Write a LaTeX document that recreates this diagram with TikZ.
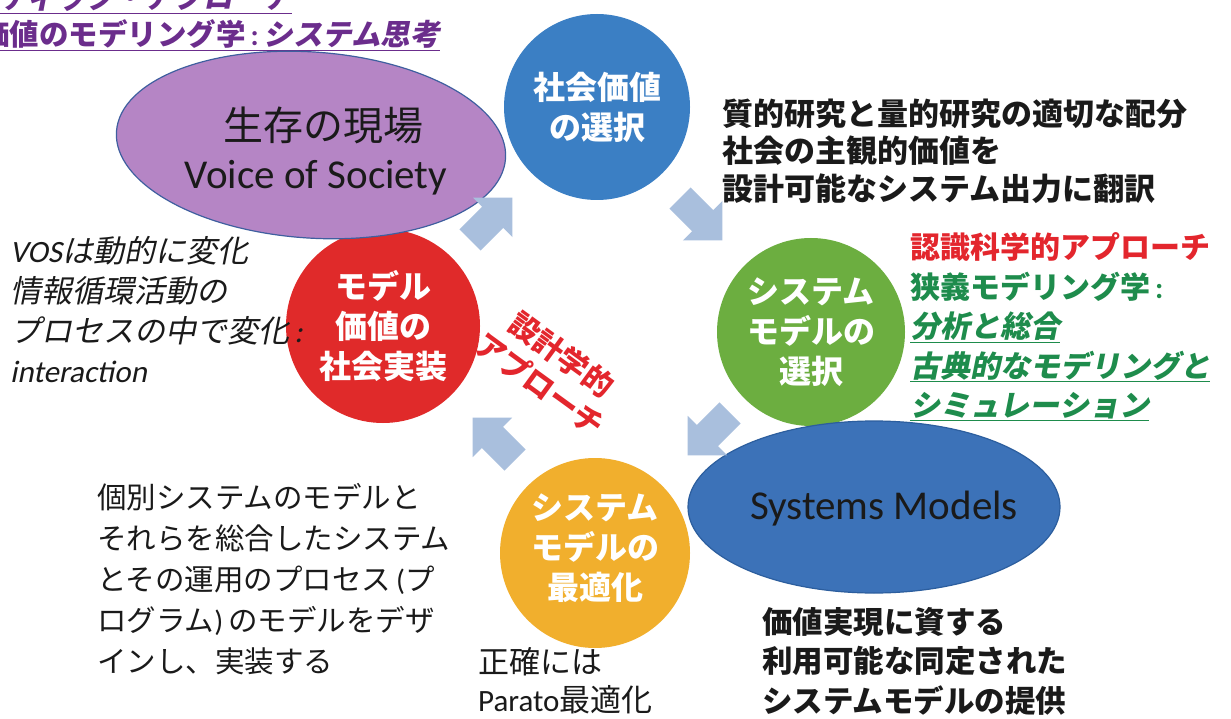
\documentclass[tikz,border=0pt]{standalone}
\usepackage{fontspec}
\setmainfont{Carlito}
\newfontfamily\jp{Noto Sans CJK JP}
\newfontfamily\jpit{Noto Sans CJK JP}[FakeSlant=0.2]
\newfontfamily\latit{Carlito}[FakeSlant=0.2]
\newfontfamily\latup{Carlito}
\usetikzlibrary{shapes.geometric}
\definecolor{cpurple}{HTML}{B585C5}
\definecolor{cpurpleline}{HTML}{3F5F9F}
\definecolor{cblue}{HTML}{3B7FC4}
\definecolor{cgreen}{HTML}{6CAE40}
\definecolor{cred}{HTML}{E02A2A}
\definecolor{cyellow}{HTML}{F1AF2D}
\definecolor{csys}{HTML}{3C72B8}
\definecolor{csysline}{HTML}{2C5E9E}
\definecolor{carrow}{HTML}{A9BFDD}
\definecolor{ctxtred}{HTML}{E3262D}
\definecolor{ctxtgreen}{HTML}{1E8C4C}
\definecolor{ctitle}{HTML}{6B2D8C}
\definecolor{cink}{HTML}{1A1A1A}
\begin{document}
\begin{tikzpicture}[x=1pt,y=-1pt,
  bubble/.style={circle, inner sep=0pt, minimum size=#1, text=white, align=center,
    font=\jp\bfseries\fontsize{32}{40}\selectfont},
  blockarrow/.style={fill=carrow},
  plain/.style={inner sep=0pt, align=left, text=cink}]
\useasboundingbox (0,0) rectangle (1231,719);
\fill[white] (0,0) rectangle (1231,719);

% title (partly outside the page)
\node[plain, anchor=east, text=ctitle, font=\jpit\bfseries\fontsize{29.5}{34}\selectfont] (title1) at (292,-2) {\underline{ホリスティック・アプローチ}};
\node[plain, anchor=east, text=ctitle, font=\jp\bfseries\fontsize{29.5}{34}\selectfont] (title2) at (440,35) {\underline{価値のモデリング学{\latup\bfseries\,:\,}{\jpit システム思考}}};

% circles
\node[bubble=194, fill=cred] (impl) at (383,326) {モデル\\価値の\\社会実装};
\node[shape=ellipse, draw=cpurpleline, line width=1.2pt, fill=cpurple, minimum width=390, minimum height=186, rotate=-4, inner sep=0pt] (vos) at (311,145) {};
\node[bubble=186, fill=cblue] (value) at (597,107) {社会価値\\の選択};
\node[bubble=188, fill=cgreen] (select) at (811,332) {システム\\モデルの\\選択};
\node[bubble=190, fill=cyellow] (optim) at (595,553) {};
\node[inner sep=0pt, text=white, align=center, font=\jp\bfseries\fontsize{32}{40}\selectfont] (optimtxt) at (595,548) {システム\\モデルの\\最適化};
\node[shape=ellipse, draw=csysline, line width=1.2pt, fill=csys, minimum width=372, minimum height=172, inner sep=0pt] (sys) at (874,507) {};

% texts in ellipses
\node[inner sep=0pt, text=cink, font=\jp\fontsize{40}{48}\selectfont] (vos1) at (323,125) {生存の現場};
\node[inner sep=0pt, text=cink, font=\fontsize{41}{48}\selectfont] (vos2) at (316,178) {Voice of Society};
\node[inner sep=0pt, text=cink, font=\fontsize{41}{48}\selectfont] (systxt) at (884,509) {Systems Models};

% block arrows
\fill[blockarrow, shift={(470,240)}, rotate=45] (0,-15) -- (32,-15) -- (32,-28) -- (60,0) -- (32,28) -- (32,15) -- (0,15) -- cycle;
\fill[blockarrow, shift={(680,198)}, rotate=-45] (0,-15) -- (32,-15) -- (32,-28) -- (60,0) -- (32,28) -- (32,15) -- (0,15) -- cycle;
\fill[blockarrow, shift={(730,413)}, rotate=-135] (0,-15) -- (32,-15) -- (32,-28) -- (60,0) -- (32,28) -- (32,15) -- (0,15) -- cycle;
\fill[blockarrow, shift={(515,460)}, rotate=135] (0,-15) -- (32,-15) -- (32,-28) -- (60,0) -- (32,28) -- (32,15) -- (0,15) -- cycle;

% right of value circle
\node[plain, anchor=west, font=\jp\bfseries\fontsize{31}{37.5}\selectfont] (research) at (722,151)
  {質的研究と量的研究の適切な配分\\社会の主観的価値を\\設計可能なシステム出力に翻訳};

% right of select circle
\node[plain, anchor=west, text=ctxtgreen, font=\jp\bfseries\fontsize{30}{39.5}\selectfont] (cog) at (910,327)
  {{\color{ctxtred}認識科学的アプローチ}\\狭義モデリング学{\latup\bfseries\,:}\\{\jpit\bfseries\underline{分析と総合}}\\{\jpit\bfseries\underline{古典的なモデリングと}}\\{\jpit\bfseries\underline{シミュレーション}}};

% rotated design approach
\node[inner sep=0pt, align=center, text=ctxtred, rotate=-36, font=\jp\bfseries\fontsize{30}{37}\selectfont] (design) at (551,369) {設計学的\\アプローチ};

% left VOS text
\node[plain, anchor=west, font=\jpit\fontsize{31}{40}\selectfont] (vostxt) at (10,310)
  {{\latit VOS}は動的に変化\\情報循環活動の\\プロセスの中で変化{\latit\,:}\\{\latit interaction}};

% bottom-left text
\node[plain, anchor=west, font=\jp\fontsize{29.5}{41}\selectfont] (design2) at (97,579)
  {個別システムのモデルと\\それらを総合したシステム\\とその運用のプロセス{\latup\,(}プ\\ログラム{\latup)\,}のモデルをデザ\\インし、実装する};

% under yellow
\node[plain, anchor=west, font=\jp\fontsize{31}{38}\selectfont] (pareto) at (478,681)
  {正確には\\{\latup Parato}最適化};

% bottom-right text
\node[plain, anchor=west, font=\jp\bfseries\fontsize{30.5}{39.5}\selectfont] (provide) at (762,661)
  {価値実現に資する\\利用可能な同定された\\システムモデルの提供};
\end{tikzpicture}
\end{document}
